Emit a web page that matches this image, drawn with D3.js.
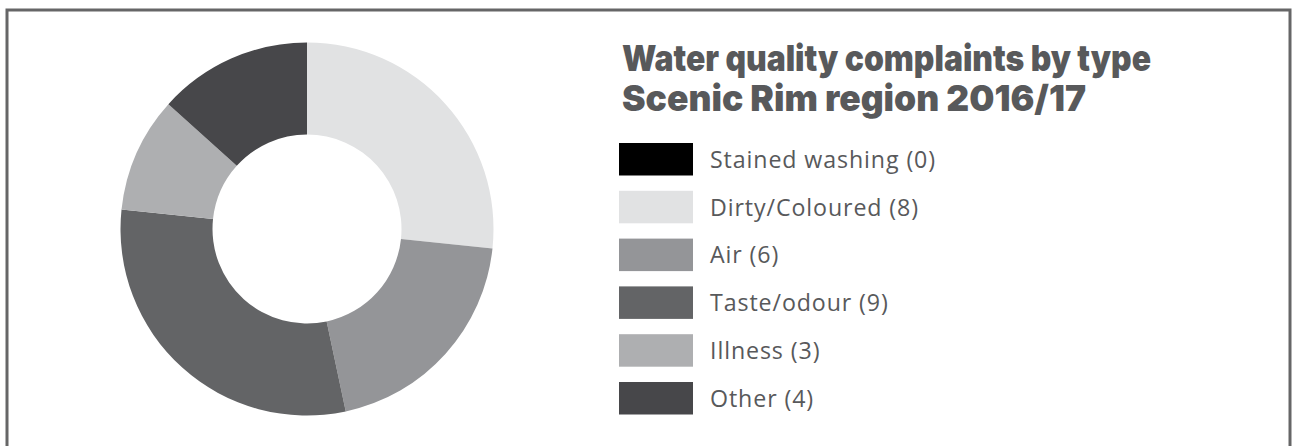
<!DOCTYPE html>
<html>
<head>
<meta charset="utf-8">
<script src="https://cdn.jsdelivr.net/npm/d3@7"></script>
<style>
  html, body { margin: 0; padding: 0; background: #fff; }
  svg { display: block; }
</style>
</head>
<body>
<svg id="chart" width="1292" height="446"></svg>
<script>
const categories = ["Stained washing", "Dirty/Coloured", "Air", "Taste/odour", "Illness", "Other"];
const values = [0, 8, 6, 9, 3, 4];
const colors = ["#000000", "#e1e2e3", "#949598", "#636466", "#aeafb1", "#47474a"];
const titleLines = ["Water quality complaints by type", "Scenic Rim region 2016/17"];

const svg = d3.select("#chart");

// frame
svg.append("rect")
  .attr("x", 7).attr("y", 10)
  .attr("width", 1283).attr("height", 460)
  .attr("fill", "none").attr("stroke", "#666667").attr("stroke-width", 3);

const data = categories.map((c, i) => ({ name: c, value: values[i], color: colors[i] }));

// donut
const cx = 307, cy = 229, outerR = 186.5, innerR = 94.5;
const pie = d3.pie().sort(null).value(d => d.value);
const arc = d3.arc().innerRadius(innerR).outerRadius(outerR);
const g = svg.append("g").attr("transform", `translate(${cx},${cy})`);
g.selectAll("path")
  .data(pie(data).filter(d => d.data.value > 0))
  .join("path")
  .attr("d", arc)
  .attr("fill", d => d.data.color);

// title
const titleX = 622;
const titleWidths = [529, 464];
svg.append("g").selectAll("text")
  .data(titleLines)
  .join("text")
  .attr("x", titleX)
  .attr("y", (d, i) => 71 + i * 40)
  .attr("font-family", "Inter, 'DejaVu Sans', sans-serif")
  .attr("font-weight", 900)
  .attr("font-size", 36)
  .attr("fill", "#58595b")
  .attr("textLength", (d, i) => titleWidths[i])
  .attr("lengthAdjust", "spacingAndGlyphs")
  .text(d => d);

// legend
const legendX = 619, legendY = 143, pitch = 47.8, swW = 74, swH = 32.5;
const leg = svg.append("g");
const items = leg.selectAll("g")
  .data(data)
  .join("g")
  .attr("transform", (d, i) => `translate(${legendX},${legendY + i * pitch})`);
items.append("rect")
  .attr("width", swW).attr("height", swH)
  .attr("fill", d => d.color);
items.append("text")
  .attr("x", 91)
  .attr("y", swH / 2 + 8.5)
  .attr("font-family", "'Open Sans', sans-serif")
  .attr("font-size", 23.2)
  .attr("letter-spacing", 0.9)
  .attr("fill", "#58595b")
  .text(d => `${d.name} (${d.value})`);
</script>
</body>
</html>
